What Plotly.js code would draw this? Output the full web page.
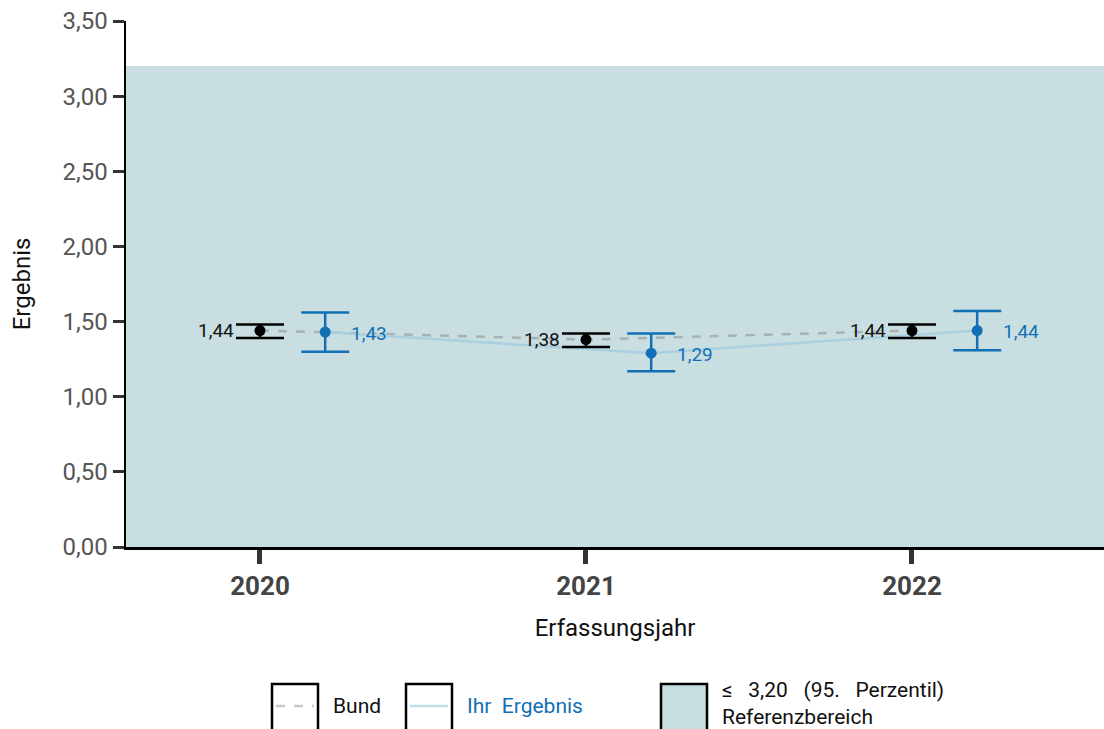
<!DOCTYPE html>
<html>
<head>
<meta charset="utf-8">
<script src="https://cdn.plot.ly/plotly-3.0.1.min.js"></script>
<style>html,body{margin:0;padding:0;background:#fff;}#chart{width:1104px;height:729px;}</style>
</head>
<body>
<div id="chart"></div>
<script>
const years = ['2020', '2021', '2022'];
const bundValues = [1.44, 1.38, 1.44];
const bundLower = [1.39, 1.33, 1.39];
const bundUpper = [1.48, 1.42, 1.48];
const ihrValues = [1.43, 1.29, 1.44];
const ihrLower = [1.30, 1.17, 1.31];
const ihrUpper = [1.56, 1.42, 1.57];
const referenceUpper = 3.20;
const yTickVals = [0, 0.5, 1, 1.5, 2, 2.5, 3, 3.5];
const yTickText = ['0,00', '0,50', '1,00', '1,50', '2,00', '2,50', '3,00', '3,50'];
const legendLabels = ['Bund', 'Ihr&nbsp;&nbsp;Ergebnis', '≤&nbsp;&nbsp;&nbsp;3,20&nbsp;&nbsp;&nbsp;(95.&nbsp;&nbsp;&nbsp;Perzentil)<br>Referenzbereich'];

const FONT = 'Roboto, "DejaVu Sans", sans-serif';
const BLUE = '#1170b5';
const LIGHTBLUE = '#a9cfe0';
const GREY = '#a8b2b2';
const REF = '#c9dee1';
const fmt = v => v.toFixed(2).replace('.', ',');

const xBund = years.map((_, i) => i);
const xIhr = years.map((_, i) => i + 0.2);

const traces = [
  {x: xBund, y: bundValues, mode: 'lines', line: {color: GREY, width: 2.5, dash: 'dash'}, hoverinfo: 'skip', showlegend: false},
  {x: xIhr, y: ihrValues, mode: 'lines', line: {color: LIGHTBLUE, width: 2.5}, hoverinfo: 'skip', showlegend: false},
  {x: xBund, y: bundValues, mode: 'markers', marker: {color: '#000', size: 11},
   error_y: {type: 'data', symmetric: false, array: bundUpper.map((u, i) => u - bundValues[i]),
             arrayminus: bundValues.map((v, i) => v - bundLower[i]), color: '#000', thickness: 2.5, width: 24},
   showlegend: false},
  {x: xIhr, y: ihrValues, mode: 'markers', marker: {color: BLUE, size: 11},
   error_y: {type: 'data', symmetric: false, array: ihrUpper.map((u, i) => u - ihrValues[i]),
             arrayminus: ihrValues.map((v, i) => v - ihrLower[i]), color: BLUE, thickness: 2.5, width: 24},
   showlegend: false}
];

const annotations = [];
bundValues.forEach((v, i) => annotations.push({x: xBund[i], y: v, xref: 'x', yref: 'y', text: fmt(v), showarrow: false,
  xanchor: 'right', yanchor: 'middle', xshift: -24, font: {family: FONT, size: 19, color: '#111'}}));
ihrValues.forEach((v, i) => annotations.push({x: xIhr[i], y: v, xref: 'x', yref: 'y', text: fmt(v), showarrow: false,
  xanchor: 'left', yanchor: 'middle', xshift: 24, yshift: -1, font: {family: FONT, size: 19, color: BLUE}}));

// legend (paper coords; plot domain 126..1104 px horizontally, 21..547 px vertically)
const px = p => (p - 126) / 978;
const py = p => (547 - p) / 526;
const shapes = [
  {type: 'rect', xref: 'x', yref: 'y', x0: -1, x1: 4, y0: 0, y1: referenceUpper, fillcolor: REF, line: {width: 0}, layer: 'below'},
  {type: 'rect', xref: 'paper', yref: 'paper', x0: px(272), x1: px(318), y0: py(684), y1: py(735), line: {color: '#000', width: 2.5}, fillcolor: 'rgba(0,0,0,0)'},
  {type: 'line', xref: 'paper', yref: 'paper', x0: px(276), x1: px(314), y0: py(706), y1: py(706), line: {color: '#c8c8c8', width: 2.5, dash: 'dash'}},
  {type: 'rect', xref: 'paper', yref: 'paper', x0: px(406), x1: px(452), y0: py(684), y1: py(735), line: {color: '#000', width: 2.5}, fillcolor: 'rgba(0,0,0,0)'},
  {type: 'line', xref: 'paper', yref: 'paper', x0: px(410), x1: px(448), y0: py(706), y1: py(706), line: {color: '#c4dfeb', width: 2.5}},
  {type: 'rect', xref: 'paper', yref: 'paper', x0: px(661), x1: px(707), y0: py(684), y1: py(735), line: {color: '#000', width: 2.5}, fillcolor: REF}
];
annotations.push({xref: 'paper', yref: 'paper', x: px(331), y: py(706), text: legendLabels[0], showarrow: false, xanchor: 'left', yanchor: 'middle', font: {family: FONT, size: 21, color: '#111'}});
annotations.push({xref: 'paper', yref: 'paper', x: px(465), y: py(706), text: legendLabels[1], showarrow: false, xanchor: 'left', yanchor: 'middle', font: {family: FONT, size: 21, color: BLUE}});
annotations.push({xref: 'paper', yref: 'paper', x: px(720), y: py(703), text: legendLabels[2], showarrow: false, xanchor: 'left', yanchor: 'middle', align: 'left', font: {family: FONT, size: 21, color: '#111'}});

const layout = {
  width: 1104, height: 729,
  margin: {l: 126, r: 0, t: 21, b: 182},
  paper_bgcolor: '#fff', plot_bgcolor: '#fff',
  separators: ',.',
  showlegend: false,
  font: {family: FONT},
  xaxis: {
    range: [-0.411, 2.589], tickvals: xBund, ticktext: years.map(y => '<b>' + y + '</b>'),
    showgrid: false, zeroline: false, showline: true, linecolor: '#000', linewidth: 2.5,
    ticks: 'outside', ticklen: 14, tickwidth: 5, tickcolor: '#333',
    tickfont: {family: FONT, size: 26, color: '#444'},
    title: {text: 'Erfassungsjahr', font: {family: FONT, size: 24, color: '#111'}, standoff: 20}
  },
  yaxis: {
    range: [0, 3.5], tickvals: yTickVals, ticktext: yTickText,
    showgrid: false, zeroline: false, showline: true, linecolor: '#000', linewidth: 2.5,
    ticks: 'outside', ticklen: 11, tickwidth: 3, tickcolor: '#333',
    tickfont: {family: FONT, size: 24, color: '#555'},
    title: {text: 'Ergebnis', font: {family: FONT, size: 24, color: '#111'}, standoff: 25}
  },
  shapes: shapes,
  annotations: annotations
};

Plotly.newPlot('chart', traces, layout, {displayModeBar: false, staticPlot: true});
</script>
</body>
</html>
